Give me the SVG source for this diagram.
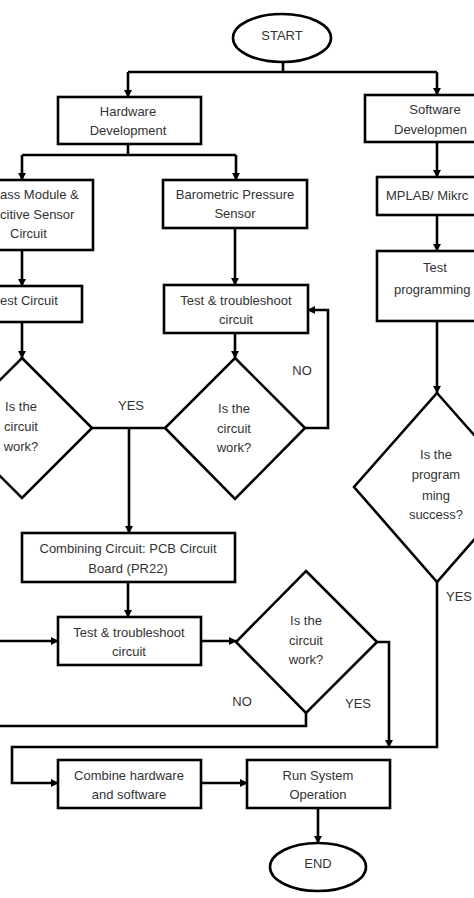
<svg xmlns="http://www.w3.org/2000/svg" width="474" height="898" viewBox="0 0 474 898">
<defs>
<marker id="arr" viewBox="0 0 10 10" refX="9" refY="5" markerWidth="3.2" markerHeight="3.2" orient="auto" markerUnits="strokeWidth">
<path d="M0,0 L10,5 L0,10 z" fill="#000"/>
</marker>
<style>
.n{fill:#fff;stroke:#000;stroke-width:2.6}
.t{font-family:"Liberation Sans",Arial,sans-serif;font-size:13px;fill:#333;text-anchor:middle}
.s{text-anchor:start}
.c{fill:none;stroke:#000;stroke-width:2.6}
.a{marker-end:url(#arr)}
</style>
</defs>
<rect width="474" height="898" fill="#fff"/>
<g id="connectors">
<path class="c" d="M283,62 V72 M128,72 H437"/>
<path class="c a" d="M128,72 V97"/>
<path class="c a" d="M437,72 V95"/>
<path class="c" d="M128,144 V155 M22,155 H236"/>
<path class="c a" d="M22,155 V180"/>
<path class="c a" d="M236,155 V180"/>
<path class="c a" d="M22,250 V286"/>
<path class="c a" d="M22,322 V358"/>
<path class="c a" d="M235,228 V285"/>
<path class="c a" d="M235,333 V358"/>
<path class="c a" d="M305,428 H328 V310 H308"/>
<path class="c" d="M92,428 H165"/>
<path class="c a" d="M129,428 V533"/>
<path class="c a" d="M437,142 V177"/>
<path class="c a" d="M437,215 V251"/>
<path class="c a" d="M437,321 V393"/>
<path class="c a" d="M128,582 V617"/>
<path class="c a" d="M201,641 H236"/>
<path class="c a" d="M377,642 H389 V747"/>
<path class="c" d="M306,713 V726 H-2"/>
<path class="c a" d="M-2,641 H58"/>
<path class="c a" d="M437,582 V747 H12 V783 H58"/>
<path class="c a" d="M201,783 H247"/>
<path class="c a" d="M318,808 V843"/>
</g>
<g id="start">
<ellipse class="n" cx="282" cy="38" rx="49" ry="24"/>
<text class="t" x="282" y="40">START</text>
</g>
<g id="hardware">
<rect class="n" x="58" y="97" width="143" height="47"/>
<text class="t" x="128" y="116">Hardware</text>
<text class="t" x="128" y="135">Development</text>
</g>
<g id="software">
<rect class="n" x="365" y="95" width="115" height="47"/>
<text class="t" x="435" y="114">Software</text>
<text class="t s" x="394" y="134">Developmen</text>
</g>
<g id="compass">
<rect class="n" x="-10" y="180" width="103" height="70"/>
<text class="t s" x="0" y="199">ass Module &amp;</text>
<text class="t s" x="0" y="219">citive Sensor</text>
<text class="t s" x="10" y="238">Circuit</text>
</g>
<g id="barometric">
<rect class="n" x="163" y="180" width="144" height="48"/>
<text class="t" x="235" y="199">Barometric Pressure</text>
<text class="t" x="235" y="218">Sensor</text>
</g>
<g id="mplab">
<rect class="n" x="377" y="177" width="103" height="38"/>
<text class="t s" x="386" y="200">MPLAB/ Mikrc</text>
</g>
<g id="testcircuit">
<rect class="n" x="-10" y="286" width="92" height="36"/>
<text class="t s" x="0" y="305">est Circuit</text>
</g>
<g id="test1">
<rect class="n" x="164" y="285" width="144" height="48"/>
<text class="t" x="236" y="305">Test &amp; troubleshoot</text>
<text class="t" x="236" y="324">circuit</text>
</g>
<g id="testprog">
<rect class="n" x="377" y="251" width="103" height="70"/>
<text class="t" x="435" y="272">Test</text>
<text class="t s" x="394" y="294">programming</text>
</g>
<g id="decision-left">
<polygon class="n" points="22,358 92,428 22,498 -48,428"/>
<text class="t" x="21" y="411">Is the</text>
<text class="t" x="21" y="431">circuit</text>
<text class="t" x="21" y="451">work?</text>
</g>
<g id="decision-mid">
<polygon class="n" points="235,358 305,428 235,499 165,428"/>
<text class="t" x="234" y="413">Is the</text>
<text class="t" x="234" y="433">circuit</text>
<text class="t" x="234" y="452">work?</text>
</g>
<g id="decision-prog">
<polygon class="n" points="437,393 520,487 437,582 354,487"/>
<text class="t" x="436" y="459">Is the</text>
<text class="t" x="436" y="479">program</text>
<text class="t" x="436" y="500">ming</text>
<text class="t" x="436" y="519">success?</text>
</g>
<g id="combining">
<rect class="n" x="22" y="533" width="213" height="49"/>
<text class="t" x="128" y="553">Combining Circuit: PCB Circuit</text>
<text class="t" x="128" y="573">Board (PR22)</text>
</g>
<g id="test2">
<rect class="n" x="58" y="617" width="143" height="48"/>
<text class="t" x="129" y="637">Test &amp; troubleshoot</text>
<text class="t" x="129" y="656">circuit</text>
</g>
<g id="decision-pcb">
<polygon class="n" points="306,571 377,642 306,713 236,642"/>
<text class="t" x="306" y="625">Is the</text>
<text class="t" x="306" y="645">circuit</text>
<text class="t" x="306" y="664">work?</text>
</g>
<g id="combine">
<rect class="n" x="58" y="760" width="143" height="48"/>
<text class="t" x="129" y="780">Combine hardware</text>
<text class="t" x="129" y="799">and software</text>
</g>
<g id="run">
<rect class="n" x="247" y="760" width="143" height="48"/>
<text class="t" x="318" y="780">Run System</text>
<text class="t" x="318" y="799">Operation</text>
</g>
<g id="end">
<ellipse class="n" cx="318" cy="867" rx="48" ry="24"/>
<text class="t" x="318" y="868">END</text>
</g>
<g id="labels">
<text class="t" x="302" y="375">NO</text>
<text class="t" x="131" y="410">YES</text>
<text class="t" x="242" y="706">NO</text>
<text class="t" x="358" y="708">YES</text>
<text class="t s" x="446" y="601">YES</text>
</g>
</svg>
